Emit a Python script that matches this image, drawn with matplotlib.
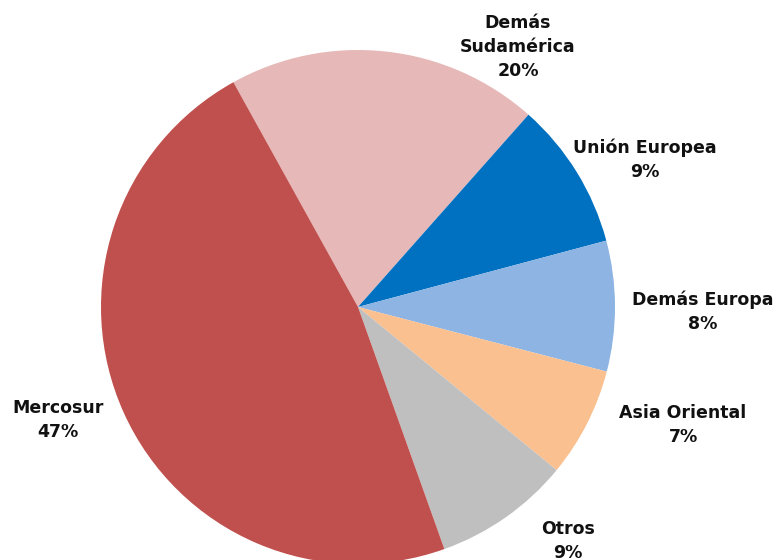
import matplotlib
matplotlib.use("Agg")
import matplotlib.pyplot as plt

categories = ["Demás\nSudamérica", "Unión Europea", "Demás Europa", "Asia Oriental", "Otros", "Mercosur"]
values = [19.6, 9.3, 8.2, 6.9, 8.6, 47.4]
colors = ["#E6B9B8", "#0070C0", "#8DB4E2", "#FAC090", "#BFBFBF", "#C0504D"]

W, H = 776, 560
CX, CY, R = 358, 307, 257

fig = plt.figure(figsize=(W / 100, H / 100), dpi=100)
ax = fig.add_axes([0, 0, 1, 1])
wedges, _ = ax.pie(values, colors=colors, startangle=119, counterclock=False,
                   radius=1.0, center=(0, 0),
                   wedgeprops=dict(linewidth=0))
ax.set_aspect("auto")
ax.set_xlim(-CX / R, (W - CX) / R)
ax.set_ylim(-(H - CY) / R, CY / R)
ax.axis("off")

# label centres in pixel coordinates (layout)
label_px = [(518, 47), (645, 160), (703, 312), (683, 425), (568, 541), (58, 420)]
total = sum(values)
for cat, v, (px, py) in zip(categories, values, label_px):
    ax.text((px - CX) / R, (CY - py) / R, f"{cat}\n{v / total * 100:.0f}%",
            ha="center", va="center", fontsize=12.5, fontweight="bold",
            family="DejaVu Sans", color="#111111", linespacing=1.42)

fig.savefig("out.png", dpi=100)
